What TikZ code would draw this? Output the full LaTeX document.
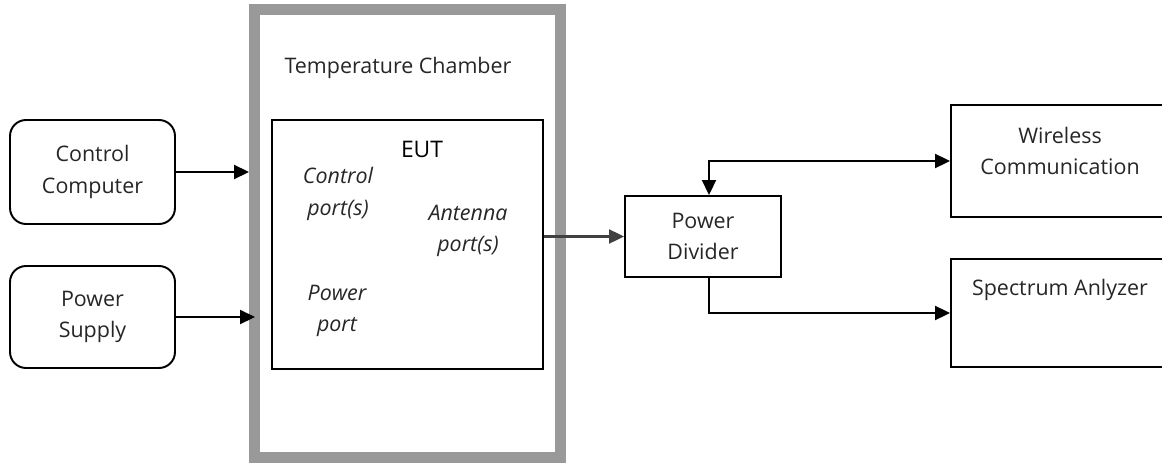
\documentclass[tikz,border=0pt]{standalone}
\usepackage{fontspec}
\setmainfont{Open Sans}
\usepackage{xcolor}
\usepackage{tikz}
\usetikzlibrary{arrows.meta,positioning,calc}
\definecolor{frame}{HTML}{999999}
\definecolor{ink}{HTML}{262626}
\definecolor{wire}{HTML}{404040}
\tikzset{
  unit/.style  ={draw=black, line width=1.1pt, rounded corners=0.32cm,
                 font=\fontsize{12.2}{18}\selectfont, text=ink, align=center,
                 minimum width=3.3cm, inner sep=0pt},
  blk/.style   ={draw=black, line width=1.1pt, inner sep=0pt},
  chamber/.style={draw=frame, line width=0.22cm, inner sep=0pt,
                 minimum width=6.12cm, minimum height=8.97cm},
  txt/.style   ={font=\fontsize{12.2}{18}\selectfont, text=ink, align=center, inner sep=0pt},
  port/.style  ={font=\fontsize{12.2}{18}\selectfont\itshape, text=ink, align=center, inner sep=0pt},
  link/.style  ={draw=black, line width=1.1pt, -{Triangle[length=0.3cm,width=0.28cm]}},
  feed/.style  ={draw=wire, line width=1.2pt, -{Triangle[length=0.3cm,width=0.28cm]}},
}

\begin{document}
\begin{tikzpicture}[x=0.02cm,y=-0.02cm]
  \clip (0,0) rectangle (1162,463);

  % ---------------------------------------------------------------- sources
  \node[unit, minimum height=2.08cm] (cc) at (92.5,172) {Control\\Computer};
  \node[unit, minimum height=2.04cm] (ps) at (92.5,317) {Power\\Supply};

  % ---------------------------------------------------------------- chamber
  \node[chamber] (ch) at (407.5,233.25) {};
  \node[txt] (chl) at (398,68) {Temperature Chamber};
  \node[blk, minimum width=5.42cm, minimum height=4.98cm] (eut) at (407.5,244.5) {};
  \node[txt, text=black, font=\fontsize{13}{18}\selectfont] (eutl) at (422,149) {EUT};
  \node[port] (cp) at (338,194) {Control\\port(s)};
  \node[port] (ap) at (468,231) {Antenna\\port(s)};
  \node[port] (pp) at (337,311) {Power\\port};

  % ---------------------------------------------------------------- rf chain
  \node[blk, txt, draw=black, minimum width=3.12cm, minimum height=1.62cm] (pd)
        at (703,236.5) {Power\\Divider};
  \node[blk, minimum width=4.38cm, minimum height=2.24cm] (wc) at (1060.5,161) {};
  \node[txt] (wcl) at (1060,151) {Wireless\\Communication};
  \node[blk, minimum width=4.38cm, minimum height=2.16cm] (sa) at (1060.5,313) {};
  \node[txt] (sal) at (1060,290) {Spectrum Anlyzer};

  % ---------------------------------------------------------------- links
  \coordinate (pin) at ($(ps.east -| ch.west)+(6,0)$);
  \draw[link] (cc.east) -- (cc.east -| ch.west);
  \draw[link] (ps.east) -- (pin);
  \draw[feed] (eut.east |- pd.west) -- (pd.west);
  \draw[link, {Triangle[length=0.3cm,width=0.28cm]}-{Triangle[length=0.3cm,width=0.28cm]}]
        ([xshift=0.12cm]pd.north) |- (wc.west);
  \draw[link] ([xshift=0.12cm]pd.south) |- (sa.west);
\end{tikzpicture}
\end{document}
